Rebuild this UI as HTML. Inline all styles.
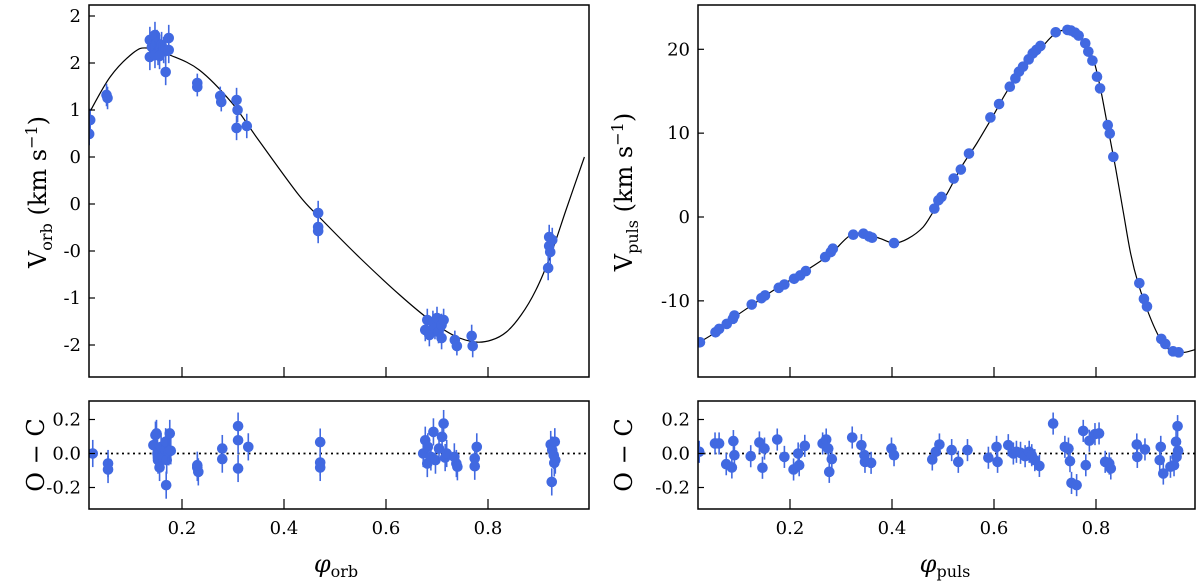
<!DOCTYPE html>
<html><head><meta charset="utf-8">
<style>
html,body{margin:0;padding:0;background:#fff;}
svg{display:block;font-family:"DejaVu Serif","Liberation Serif",serif;}
</style></head>
<body>
<svg id="fig" width="1200" height="582" viewBox="0 0 1200 582" xmlns="http://www.w3.org/2000/svg"></svg>
<script>
// ---------- Left (orbital) data ----------
const orbModelPhase=[0.018,0.059,0.104,0.131,0.176,0.234,0.298,0.350,0.429,0.471,0.549,0.627,0.686,0.735,0.775,0.807,0.836,0.865,0.894,0.923,0.953,0.989];
const orbModelV=[1.468,1.851,2.106,2.160,2.085,1.926,1.574,1.181,0.596,0.351,-0.074,-0.468,-0.734,-0.904,-0.968,-0.947,-0.862,-0.681,-0.415,-0.043,0.436,1.000];
const orbPhase=[0.020,0.018,0.052,0.054,0.137,0.141,0.147,0.151,0.153,0.156,0.160,0.164,0.168,0.137,0.147,0.156,0.174,0.174,0.168,0.230,0.230,0.275,0.277,0.307,0.309,0.307,0.327,0.467,0.467,0.467,0.677,0.681,0.685,0.692,0.696,0.700,0.703,0.709,0.713,0.709,0.735,0.739,0.768,0.770,0.920,0.920,0.922,0.918,0.926];
const orbV=[1.394,1.245,1.660,1.628,2.245,2.170,2.298,2.213,2.117,2.160,2.191,2.138,2.128,2.064,2.085,2.074,2.266,2.138,1.904,1.787,1.745,1.649,1.585,1.606,1.500,1.309,1.330,0.404,0.255,0.213,-0.840,-0.734,-0.894,-0.755,-0.819,-0.713,-0.862,-0.787,-0.734,-0.926,-0.947,-1.011,-0.904,-1.011,0.149,0.053,-0.011,-0.181,0.117];
const orbErr=[0.12,0.12,0.12,0.12,0.14,0.14,0.14,0.14,0.14,0.14,0.14,0.14,0.14,0.14,0.14,0.14,0.14,0.14,0.14,0.1,0.1,0.1,0.1,0.13,0.13,0.13,0.13,0.13,0.13,0.13,0.12,0.12,0.12,0.12,0.12,0.12,0.12,0.12,0.12,0.12,0.1,0.1,0.12,0.12,0.13,0.13,0.13,0.13,0.13];
const orbResPhase=[0.025,0.055,0.055,0.144,0.148,0.150,0.152,0.153,0.156,0.159,0.163,0.167,0.168,0.170,0.174,0.176,0.169,0.178,0.230,0.232,0.230,0.279,0.279,0.310,0.310,0.310,0.330,0.471,0.471,0.471,0.673,0.677,0.681,0.682,0.688,0.693,0.697,0.704,0.710,0.713,0.716,0.719,0.734,0.738,0.740,0.774,0.774,0.778,0.923,0.926,0.929,0.930,0.925,0.931,0.932];
const orbRes=[0.0,-0.059,-0.094,0.049,0.108,0.118,0.0,-0.039,-0.082,0.039,-0.020,0.020,0.069,-0.039,0.010,0.118,-0.186,0.016,-0.082,-0.108,-0.069,0.029,-0.033,0.161,0.078,-0.088,0.039,0.067,-0.053,-0.082,0.0,0.078,-0.059,0.039,-0.020,0.127,-0.039,0.029,0.098,0.176,-0.024,0.0,-0.020,-0.059,-0.078,-0.029,-0.075,0.039,0.053,0.020,-0.010,-0.055,-0.167,0.069,-0.039];
const orbYTicks=[2.5,2.0,1.5,1.0,0.5,0.0,-0.5,-1.0];
const orbYLabels=["2","2","1","0","0","-0","-1","-2"];
// ---------- Right (pulsation) data ----------
const pulModelPhase=[0.022,0.054,0.091,0.129,0.167,0.205,0.242,0.280,0.318,0.348,0.378,0.404,0.431,0.461,0.483,0.506,0.536,0.566,0.597,0.627,0.657,0.695,0.721,0.747,0.770,0.793,0.808,0.823,0.838,0.853,0.868,0.883,0.906,0.928,0.951,0.974,0.998];
const pulModelV=[-14.94,-13.75,-11.95,-10.36,-8.76,-7.37,-5.98,-4.38,-2.19,-1.99,-2.59,-3.11,-2.59,-1.20,0.80,2.59,5.98,8.76,11.95,15.14,17.53,20.32,21.91,22.31,21.51,19.12,15.54,10.76,5.98,0.80,-4.38,-7.97,-11.95,-14.74,-16.14,-16.14,-15.74];
const pulPhase=[0.0235,0.054,0.061,0.076,0.088,0.091,0.125,0.144,0.151,0.178,0.189,0.208,0.220,0.231,0.269,0.280,0.284,0.324,0.344,0.355,0.361,0.404,0.483,0.491,0.497,0.521,0.535,0.551,0.593,0.610,0.631,0.642,0.649,0.657,0.668,0.676,0.683,0.691,0.721,0.744,0.751,0.759,0.766,0.779,0.785,0.793,0.802,0.808,0.823,0.827,0.834,0.885,0.894,0.900,0.928,0.936,0.951,0.962];
const pulV=[-14.94,-13.75,-13.35,-12.75,-12.15,-11.75,-10.44,-9.68,-9.36,-8.45,-8.05,-7.37,-6.97,-6.45,-4.78,-4.18,-3.78,-2.11,-1.99,-2.31,-2.47,-3.11,1.00,1.99,2.39,4.58,5.66,7.57,11.87,13.47,15.54,16.53,17.33,17.93,18.80,19.52,19.92,20.40,22.03,22.31,22.23,21.99,21.63,20.72,19.72,18.65,16.73,15.34,10.96,9.96,7.17,-7.89,-9.76,-10.68,-14.54,-15.14,-16.02,-16.14];
const pulResPhase=[0.022,0.053,0.061,0.075,0.086,0.089,0.091,0.123,0.140,0.146,0.150,0.175,0.189,0.207,0.216,0.218,0.229,0.264,0.271,0.275,0.277,0.282,0.322,0.340,0.346,0.347,0.359,0.399,0.404,0.479,0.486,0.493,0.517,0.530,0.548,0.589,0.605,0.607,0.628,0.638,0.644,0.652,0.661,0.669,0.674,0.680,0.689,0.716,0.739,0.746,0.749,0.752,0.762,0.775,0.780,0.787,0.798,0.806,0.818,0.826,0.829,0.880,0.881,0.896,0.927,0.925,0.932,0.946,0.953,0.957,0.960,0.961,0.958];
const pulRes=[0.010,0.059,0.059,-0.063,-0.082,0.073,-0.010,-0.016,0.065,-0.084,0.029,0.082,-0.020,-0.094,0.0,-0.069,0.045,0.059,0.082,0.029,-0.108,-0.033,0.094,0.049,-0.010,-0.049,-0.055,0.029,-0.010,-0.035,0.010,0.053,0.020,-0.049,0.020,-0.025,0.039,-0.049,0.049,0.0,0.010,0.004,-0.016,0.010,-0.010,-0.039,-0.073,0.176,0.039,0.029,-0.045,-0.173,-0.186,0.133,-0.069,0.075,0.114,0.118,-0.049,-0.059,-0.088,0.053,-0.020,0.024,0.039,-0.039,-0.118,-0.078,-0.069,0.069,0.161,0.016,-0.020];
const pulYTicks=[20,10,0,-10];
const pulYLabels=["20","10","0","-10"];
const xTicks=[0.2,0.4,0.6,0.8];
const xLabels=["0.2","0.4","0.6","0.8"];
const resTicks=[0.2,0.0,-0.2];
const resLabels=["0.2","0.0","-0.2"];

const NS="http://www.w3.org/2000/svg";
const svg=document.getElementById('fig');
function el(tag,attrs,parent){const e=document.createElementNS(NS,tag);for(const k in attrs)e.setAttribute(k,attrs[k]);(parent||svg).appendChild(e);return e;}
function lin(d0,d1,r0,r1){return v=>r0+(v-d0)*(r1-r0)/(d1-d0);}
const BLUE="#4169e1";

function panel(name,box,xs,ys,yt,yl,xt,xl,showXLabels){
  const g=el('g',{});
  
  
  const clipId=name+'-clip';
  const cp=el('clipPath',{id:clipId},g);
  el('rect',{x:box.x0,y:box.y0,width:box.x1-box.x0,height:box.y1-box.y0},cp);
  const plot=el('g',{'clip-path':'url(#'+clipId+')'},g);
  yt.forEach((v,i)=>{
    const y=ys(v);
    const t=el('line',{x1:box.x0,x2:box.x0+6,y1:y,y2:y,stroke:'#000','stroke-width':1.2},g);
    
    
    const tx=el('text',{x:box.x0-8,y:y+6,'text-anchor':'end','font-size':18},g);
    
    
    tx.textContent=yl[i];
  });
  xt.forEach((v,i)=>{
    const x=xs(v);
    const t=el('line',{x1:x,x2:x,y1:box.y1,y2:box.y1-10,stroke:'#000','stroke-width':1.2},g);
    
    
    if(showXLabels){
      const tx=el('text',{x:x,y:534,'text-anchor':'middle','font-size':18},g);
      
      
      tx.textContent=xl[i];
    }
  });
  return {g,plot};
}
function drawLine(parent,xs,ys,px,py,name){
  const pts=px.map((p,i)=>[xs(p),ys(py[i])]);
  let d='M'+pts[0][0].toFixed(1)+','+pts[0][1].toFixed(1);
  for(let i=0;i<pts.length-1;i++){
    const p0=pts[Math.max(0,i-1)],p1=pts[i],p2=pts[i+1],p3=pts[Math.min(pts.length-1,i+2)];
    const c1=[p1[0]+(p2[0]-p0[0])/6,p1[1]+(p2[1]-p0[1])/6];
    const c2=[p2[0]-(p3[0]-p1[0])/6,p2[1]-(p3[1]-p1[1])/6];
    d+='C'+c1[0].toFixed(1)+','+c1[1].toFixed(1)+' '+c2[0].toFixed(1)+','+c2[1].toFixed(1)+' '+p2[0].toFixed(1)+','+p2[1].toFixed(1);
  }
  const p=el('path',{d:d,fill:'none',stroke:'#000','stroke-width':1.2,'stroke-linejoin':'round'},parent);
  
  
}
function drawPoints(parent,xs,ys,px,py,err,name){
  px.forEach((p,i)=>{
    const cx=xs(p),cy=ys(py[i]);
    if(err){
      const e=err(i);
      const l=el('line',{x1:cx,x2:cx,y1:ys(py[i]+e),y2:ys(py[i]-e),stroke:BLUE,'stroke-width':1.6},parent);
      
      
    }
    const c=el('circle',{cx:cx,cy:cy,r:5.3,fill:BLUE},parent);
    
    
  });
}
function frame(box,name){
  const r=el('rect',{x:box.x0,y:box.y0,width:box.x1-box.x0,height:box.y1-box.y0,fill:'none',stroke:'#000','stroke-width':1.5});
  
  
}
function zeroLine(parent,box,ys){
  const l=el('line',{x1:box.x0,x2:box.x1,y1:ys(0),y2:ys(0),stroke:'#000','stroke-width':1.8,'stroke-dasharray':'2,3.5'},parent);
  
  
}

const LT={x0:89,x1:589,y0:5,y1:377};
const xsL=lin(0,1,80,590);
const ysLT=lin(2.5,0,16,251);
let P=panel('orbit-panel',LT,xsL,ysLT,orbYTicks,orbYLabels,xTicks,xLabels,false);
drawLine(P.plot,xsL,ysLT,orbModelPhase,orbModelV,'orbit-model-curve');
drawPoints(P.plot,xsL,ysLT,orbPhase,orbV,i=>orbErr[i],'orbit-point');
frame(LT,'orbit-frame');
const LB={x0:89,x1:589,y0:401,y1:509};
const ysR=lin(0,0.2,453.5,419.5);
P=panel('orbit-residual-panel',LB,xsL,ysR,resTicks,resLabels,xTicks,xLabels,true);
zeroLine(P.plot,LB,ysR);
drawPoints(P.plot,xsL,ysR,orbResPhase,orbRes,()=>0.08,'orbit-residual-point');
frame(LB,'orbit-residual-frame');
const RT={x0:698,x1:1195,y0:5,y1:377};
const xsR=lin(0,1,688,1198);
const ysRT=lin(0,20,217,49.3);
P=panel('pulsation-panel',RT,xsR,ysRT,pulYTicks,pulYLabels,xTicks,xLabels,false);
drawLine(P.plot,xsR,ysRT,pulModelPhase,pulModelV,'pulsation-model-curve');
drawPoints(P.plot,xsR,ysRT,pulPhase,pulV,null,'pulsation-point');
frame(RT,'pulsation-frame');
const RB={x0:698,x1:1195,y0:401,y1:509};
P=panel('pulsation-residual-panel',RB,xsR,ysR,resTicks,resLabels,xTicks,xLabels,true);
zeroLine(P.plot,RB,ysR);
drawPoints(P.plot,xsR,ysR,pulResPhase,pulRes,()=>0.065,'pulsation-residual-point');
frame(RB,'pulsation-residual-frame');
</script>
<div style="position:absolute;left:0;top:0;width:1200px;height:582px;pointer-events:none">
<svg width="1200" height="582" style="font-family:'DejaVu Serif','Liberation Serif',serif">
  <text transform="translate(46,192) rotate(-90)" text-anchor="middle" font-size="24">V<tspan font-size="16" dy="6">orb</tspan><tspan dy="-6"> (km s</tspan><tspan font-size="16" dy="-9">−1</tspan><tspan dy="9">)</tspan></text>
  <text transform="translate(632,192) rotate(-90)" text-anchor="middle" font-size="24">V<tspan font-size="16" dy="6">puls</tspan><tspan dy="-6"> (km s</tspan><tspan font-size="16" dy="-9">−1</tspan><tspan dy="9">)</tspan></text>
  <text transform="translate(44,455) rotate(-90)" text-anchor="middle" font-size="24">O − C</text>
  <text transform="translate(632,455) rotate(-90)" text-anchor="middle" font-size="24">O − C</text>
  <text x="336" y="572" text-anchor="middle" font-size="24"><tspan font-style="italic">φ</tspan><tspan font-size="16" dy="5">orb</tspan></text>
  <text x="945" y="572" text-anchor="middle" font-size="24"><tspan font-style="italic">φ</tspan><tspan font-size="16" dy="5">puls</tspan></text>
</svg>
</div>
</body></html>
